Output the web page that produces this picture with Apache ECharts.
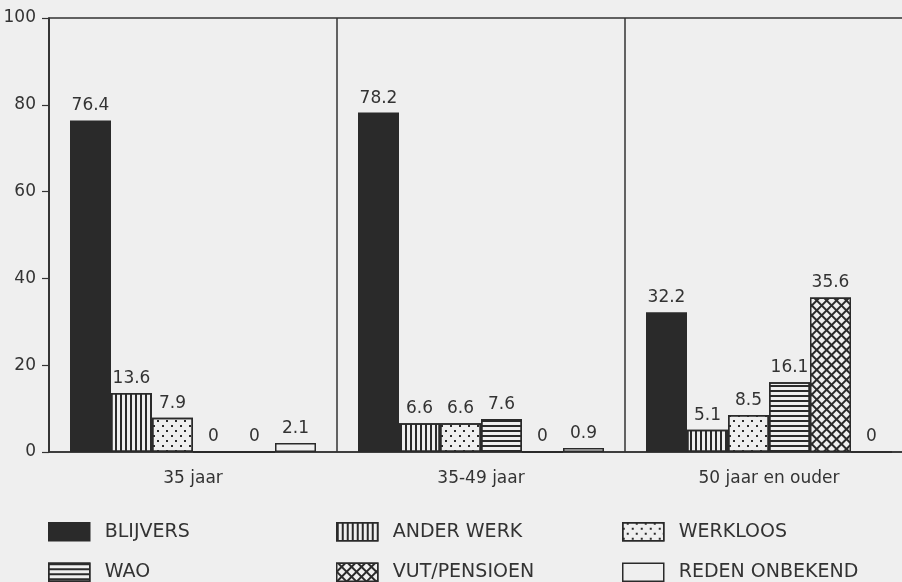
<!DOCTYPE html>
<html>
<head>
<meta charset="utf-8">
<script src="https://cdn.jsdelivr.net/npm/echarts@6/dist/echarts.min.js"></script>
<style>
  html, body { margin: 0; padding: 0; background: #efefef; }
  #chart { width: 902px; height: 582px; }
</style>
</head>
<body>
<div id="chart"></div>
<script>
// Age groups on the category axis
const categories = ['35 jaar', '35-49 jaar', '50 jaar en ouder'];

// Percentages per destination, one value per age group
const blijvers = [76.4, 78.2, 32.2];
const anderWerk = [13.6, 6.6, 5.1];
const werkloos = [7.9, 6.6, 8.5];
const wao = [0, 7.6, 16.1];
const vutPensioen = [0, 0, 35.6];
const redenOnbekend = [2.1, 0.9, 0];

// Value axis ticks
const yTicks = [0, 20, 40, 60, 80, 100];

const INK = '#2a2a2a';
const PAPER = '#efefef';
const FONT = 'DejaVu Sans';

// Hatch fills
const decals = {
  vertical: { symbol: 'rect', symbolSize: 1, color: INK, dashArrayX: [1.4, 2.6], dashArrayY: [10, 0] },
  dots: { symbol: 'rect', symbolSize: 1, color: INK, dashArrayX: [[1.6, 6.4], [0, 4, 1.6, 2.4]], dashArrayY: [1.6, 2.4] },
  horizontal: { symbol: 'rect', symbolSize: 1, color: INK, dashArrayX: [10, 0], dashArrayY: [1.4, 2.6] },
  cross: { symbol: 'rect', symbolSize: 1, color: PAPER, backgroundColor: INK, dashArrayX: [4.2, 1.8], dashArrayY: [4.2, 1.8], rotation: Math.PI / 4 }
};

function barSeries(name, data, fill, decal, border) {
  const itemStyle = { color: fill, borderColor: INK, borderWidth: border };
  if (decal) itemStyle.decal = decal;
  return {
    name: name,
    type: 'bar',
    data: data,
    barWidth: 41,
    barGap: '0%',
    itemStyle: itemStyle,
    label: {
      show: true,
      position: 'top',
      distance: 6,
      color: '#333',
      fontFamily: FONT,
      fontSize: 17
    }
  };
}

const series = [
  barSeries('BLIJVERS', blijvers, INK, null, 0),
  barSeries('ANDER WERK', anderWerk, PAPER, decals.vertical, 1.5),
  barSeries('WERKLOOS', werkloos, PAPER, decals.dots, 1.5),
  barSeries('WAO', wao, PAPER, decals.horizontal, 1.5),
  barSeries('VUT/PENSIOEN', vutPensioen, PAPER, decals.cross, 1.5),
  barSeries('REDEN ONBEKEND', redenOnbekend, PAPER, null, 1.5)
];

function legendColumn(left, names) {
  return {
    orient: 'vertical',
    left: left,
    top: 522,
    height: 60,
    padding: 0,
    data: names,
    icon: 'rect',
    itemWidth: 41,
    itemHeight: 18,
    itemGap: 21,
    selectedMode: false,
    itemStyle: { borderColor: INK, borderWidth: 1.5 },
    textStyle: { fontFamily: FONT, fontSize: 19, color: '#333', padding: [0, 0, 0, 10] }
  };
}

const chart = echarts.init(document.getElementById('chart'));
chart.setOption({
  backgroundColor: PAPER,
  animation: false,
  grid: {
    left: 49,
    top: 18,
    width: 864,
    height: 434,
    outerBoundsMode: 'none',
    show: true,
    borderColor: '#333',
    borderWidth: 1.5,
    backgroundColor: 'transparent'
  },
  legend: [
    legendColumn(48, ['BLIJVERS', 'WAO']),
    legendColumn(336, ['ANDER WERK', 'VUT/PENSIOEN']),
    legendColumn(622, ['WERKLOOS', 'REDEN ONBEKEND'])
  ],
  xAxis: {
    type: 'category',
    data: categories,
    axisLine: { lineStyle: { color: '#333', width: 1.5 } },
    axisTick: { show: false },
    axisLabel: { color: '#333', fontFamily: FONT, fontSize: 17, margin: 18 },
    splitLine: { show: true, interval: 0, lineStyle: { color: '#333', width: 1.5 } }
  },
  yAxis: {
    type: 'value',
    min: yTicks[0],
    max: yTicks[yTicks.length - 1],
    interval: yTicks[1] - yTicks[0],
    axisLine: { show: true, lineStyle: { color: '#333', width: 1.5 } },
    axisTick: { show: true, length: 7, lineStyle: { color: '#333', width: 1.2 } },
    axisLabel: { color: '#333', fontFamily: FONT, fontSize: 17, margin: 13 },
    splitLine: { show: false }
  },
  series: series
});
</script>
</body>
</html>
